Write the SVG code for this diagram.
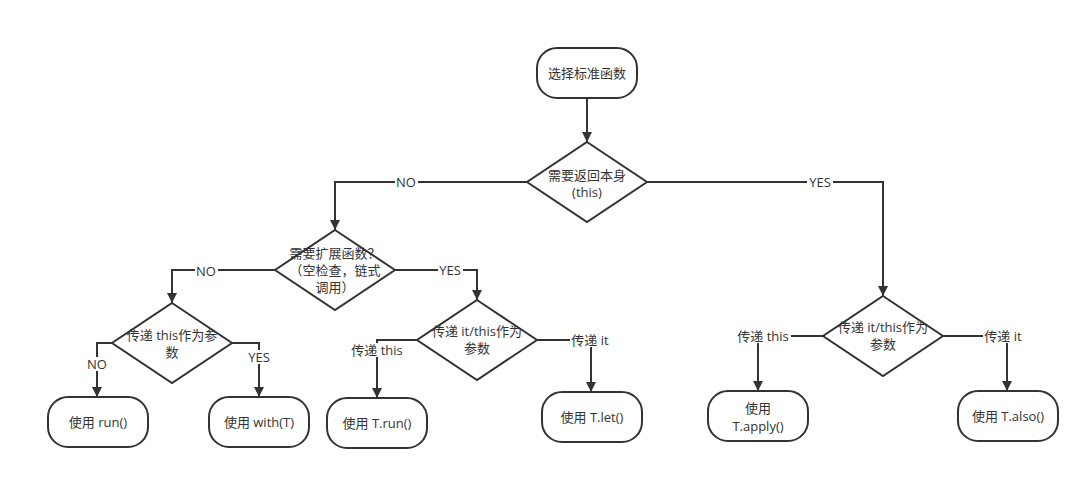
<svg xmlns="http://www.w3.org/2000/svg" width="1089" height="479" viewBox="0 0 1089 479">
<defs>
<marker id="arr" viewBox="0 0 10 10" refX="10" refY="5" markerWidth="10" markerHeight="10" markerUnits="userSpaceOnUse" orient="auto">
<path d="M0,0 L10,5 L0,10 Z" fill="#333"/>
</marker>
<style>
.sh{fill:#fff;stroke:#333;stroke-width:2}
.ln{fill:none;stroke:#333;stroke-width:2;marker-end:url(#arr)}
.t{font-family:"Open Sans","Noto Sans CJK SC",sans-serif;font-size:13px;fill:#333;text-anchor:middle;dominant-baseline:central;text-spacing-trim:space-all;font-feature-settings:"chws" 0,"halt" 0,"palt" 0}
.lb{fill:#fff}
</style>
</defs>
<rect width="1089" height="479" fill="#fff"/>
<g id="connectors">
<path class="ln" d="M587,98 V142"/>
<path class="ln" d="M527,182 H335 V230"/>
<path class="ln" d="M647,182 H883 V296"/>
<path class="ln" d="M275,270 H172 V303"/>
<path class="ln" d="M395,270 H477 V300"/>
<path class="ln" d="M112,343 H97 V397"/>
<path class="ln" d="M232,343 H259 V397"/>
<path class="ln" d="M417,340 H377 V398"/>
<path class="ln" d="M537,340 H591 V392"/>
<path class="ln" d="M823,336 H758 V391"/>
<path class="ln" d="M942,336 H1007 V391"/>
<rect class="lb" x="395" y="175" width="23" height="14"/><text class="t" x="406" y="182">NO</text>
<rect class="lb" x="807" y="175" width="26" height="14"/><text class="t" x="820" y="182">YES</text>
<rect class="lb" x="195" y="264" width="23" height="14"/><text class="t" x="206" y="271">NO</text>
<rect class="lb" x="438" y="263" width="25" height="14"/><text class="t" x="450" y="270">YES</text>
<rect class="lb" x="86" y="357" width="23" height="14"/><text class="t" x="97" y="364">NO</text>
<rect class="lb" x="246" y="350" width="26" height="14"/><text class="t" x="259" y="357">YES</text>
<rect class="lb" x="349" y="343" width="56" height="14"/><text class="t" x="377" y="350">传递 this</text>
<rect class="lb" x="570" y="333" width="42" height="14"/><text class="t" x="590" y="340">传递 it</text>
<rect class="lb" x="735" y="329" width="56" height="14"/><text class="t" x="763" y="336">传递 this</text>
<rect class="lb" x="983" y="329" width="42" height="14"/><text class="t" x="1003" y="336">传递 it</text>
</g>
<g id="start">
<rect class="sh" x="537" y="48" width="100" height="50" rx="20"/>
<text class="t" x="587" y="73">选择标准函数</text>
</g>
<g id="d1">
<polygon class="sh" points="587,142 647,182 587,222 527,182"/>
<text class="t" x="587" y="175">需要返回本身</text>
<text class="t" x="587" y="192">(this)</text>
</g>
<g id="d2">
<polygon class="sh" points="335,230 395,270 335,310 275,270"/>
<text class="t" x="335" y="253">需要扩展函数？</text>
<text class="t" x="335" y="270">（空检查，链式</text>
<text class="t" x="335" y="287">调用）</text>
</g>
<g id="d3">
<polygon class="sh" points="477,300 537,340 477,380 417,340"/>
<text class="t" x="477" y="331">传递 it/this作为</text>
<text class="t" x="477" y="348">参数</text>
</g>
<g id="d4">
<polygon class="sh" points="883,296 943,336 883,376 823,336"/>
<text class="t" x="883" y="327">传递 it/this作为</text>
<text class="t" x="883" y="344">参数</text>
</g>
<g id="d5">
<polygon class="sh" points="172,303 232,343 172,383 112,343"/>
<text class="t" x="172" y="335">传递 this作为参</text>
<text class="t" x="172" y="352">数</text>
</g>
<g id="leaf1">
<rect class="sh" x="48" y="397" width="100" height="50" rx="20"/>
<text class="t" x="98" y="422">使用 run()</text>
</g>
<g id="leaf2">
<rect class="sh" x="209" y="397" width="100" height="50" rx="20"/>
<text class="t" x="259" y="422">使用 with(T)</text>
</g>
<g id="leaf3">
<rect class="sh" x="327" y="398" width="100" height="50" rx="20"/>
<text class="t" x="377" y="423">使用 T.run()</text>
</g>
<g id="leaf4">
<rect class="sh" x="542" y="392" width="100" height="50" rx="20"/>
<text class="t" x="592" y="417">使用 T.let()</text>
</g>
<g id="leaf5">
<rect class="sh" x="708" y="391" width="100" height="50" rx="20"/>
<text class="t" x="758" y="408">使用</text>
<text class="t" x="758" y="426">T.apply()</text>
</g>
<g id="leaf6">
<rect class="sh" x="958" y="391" width="100" height="50" rx="20"/>
<text class="t" x="1008" y="416">使用 T.also()</text>
</g>
</svg>
